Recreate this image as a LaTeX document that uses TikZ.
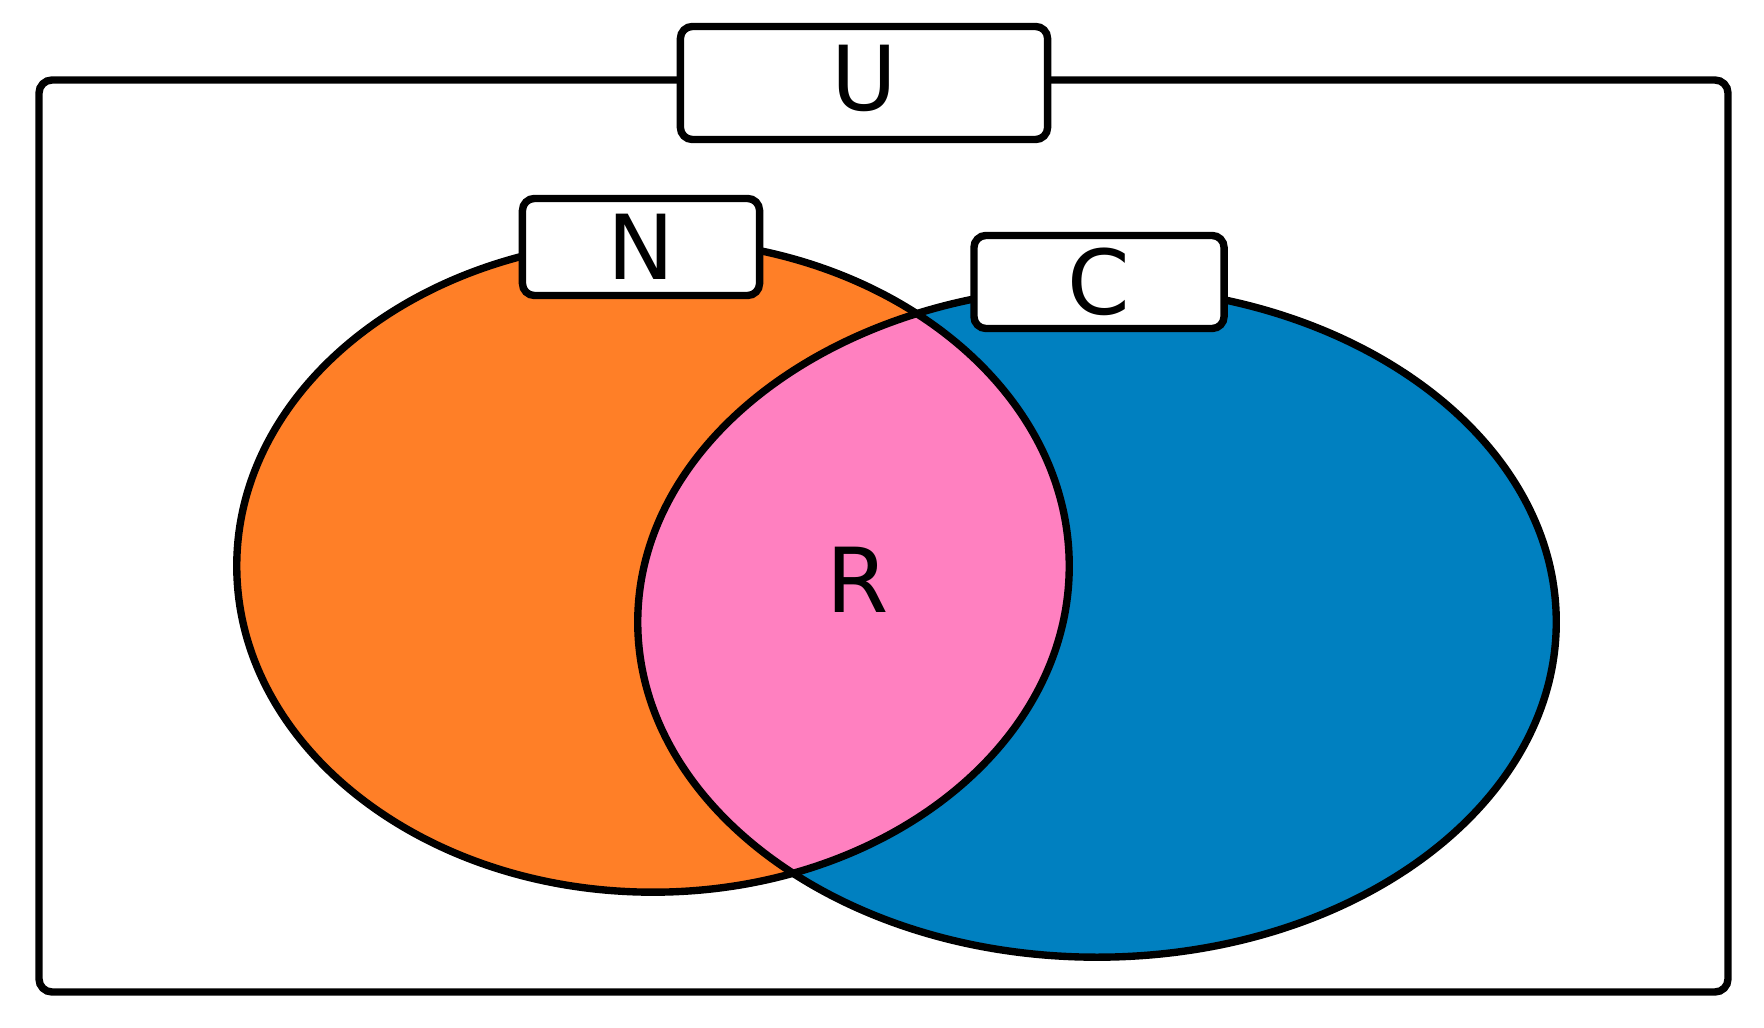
\documentclass[tikz,border=0pt]{standalone}
\usepackage{fontspec}
\setmainfont{DejaVu Sans}
\definecolor{ncolor}{HTML}{FF7F27}
\definecolor{ccolor}{HTML}{0080C0}
\definecolor{rcolor}{HTML}{FF80C0}
\begin{document}
\begin{tikzpicture}[x=0.01cm, y=-0.01cm,
        setline/.style={line width=2.1pt},
        setlabel/.style={draw, line width=2.1pt, fill=white, rounded corners=0.12cm, inner sep=0pt, font=\fontsize{25.5}{29}\selectfont}]
        \useasboundingbox (0,0) rectangle (1764,1028);
        % universe
        \draw[setline, rounded corners=0.13cm] (39,80) rectangle (1728,992);
        % sets
        \fill[ncolor] (653,566) ellipse [x radius=4.16cm, y radius=3.26cm];
        \fill[ccolor] (1097,622) ellipse [x radius=4.59cm, y radius=3.35cm];
        \begin{scope}
            \clip (653,566) ellipse [x radius=4.16cm, y radius=3.26cm];
            \fill[rcolor] (1097,622) ellipse [x radius=4.59cm, y radius=3.35cm];
        \end{scope}
        \draw[setline] (653,566) ellipse [x radius=4.16cm, y radius=3.26cm];
        \draw[setline] (1097,622) ellipse [x radius=4.59cm, y radius=3.35cm];
        % labels
        \node[setlabel, minimum width=3.67cm, minimum height=1.13cm, text depth=0.1cm] (U) at (864,83) {U};
        \node[setlabel, minimum width=2.37cm, minimum height=0.97cm] (N) at (641,247) {N};
        \node[setlabel, minimum width=2.50cm, minimum height=0.93cm] (C) at (1099,282) {C};
        \node[font=\fontsize{25.5}{29}\selectfont] (R) at (858,580) {R};
    \end{tikzpicture}
\end{document}
